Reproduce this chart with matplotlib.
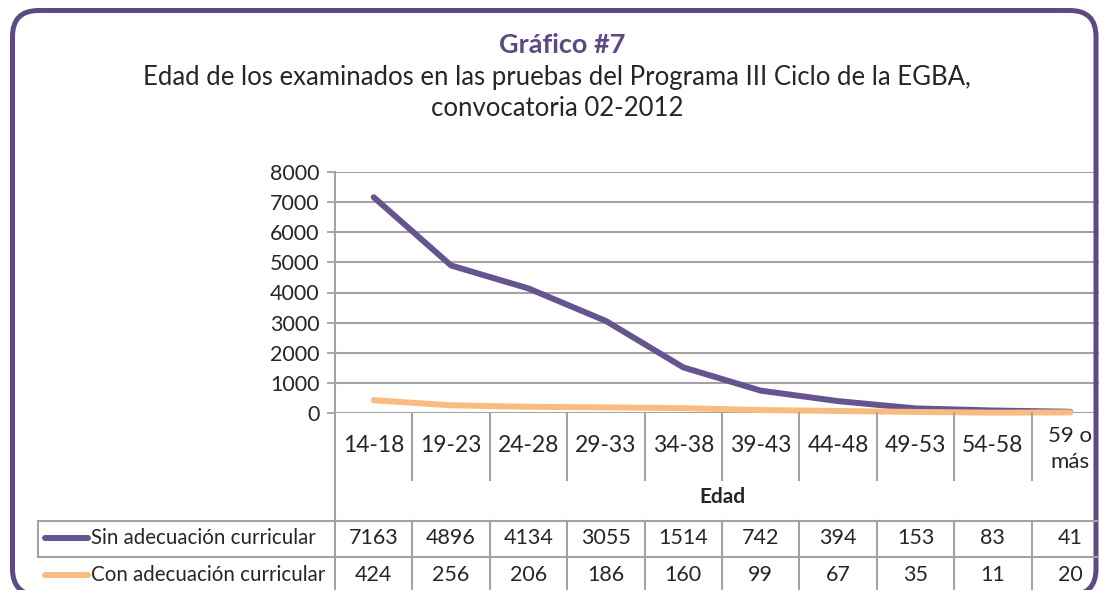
import numpy as np
import matplotlib
matplotlib.use("Agg")
import matplotlib.pyplot as plt
import matplotlib.transforms as mtransforms
from matplotlib.patches import FancyBboxPatch
from matplotlib.lines import Line2D

# Datos del gráfico
edades = ["14-18", "19-23", "24-28", "29-33", "34-38", "39-43", "44-48", "49-53", "54-58", "59 o\nmás"]
sin_adecuacion = [7163, 4896, 4134, 3055, 1514, 742, 394, 153, 83, 41]
con_adecuacion = [424, 256, 206, 186, 160, 99, 67, 35, 11, 20]
series = ["Sin adecuación curricular", "Con adecuación curricular"]

titulo = "Gráfico #7"
subtitulo = ["Edad de los examinados en las pruebas del Programa III Ciclo de la EGBA,",
             "convocatoria 02-2012"]

morado = "#665490"
marco = "#5E4A82"
naranja = "#F9BC80"
gris = "#A3A3A3"
texto = "#262626"

plt.rcParams["font.family"] = ["Lato", "DejaVu Sans"]

W, H = 1099, 590
fig = plt.figure(figsize=(W / 100, H / 100), dpi=100)


def fy(y):
    return 1 - y / H


def fx(x):
    return x / W


# marco redondeado (el borde inferior queda fuera de la imagen)
frame = FancyBboxPatch((12.5, H - 595), 1096 - 12.5, 595 - 10.5,
                       boxstyle="round,pad=0,rounding_size=26",
                       fill=False, edgecolor=marco, linewidth=3.6,
                       transform=mtransforms.IdentityTransform())
fig.add_artist(frame)

# títulos
fig.text(fx(562), fy(45), titulo, ha="center", va="center", fontsize=19.5,
         fontweight="bold", color=marco)
fig.text(fx(557), fy(78), subtitulo[0], ha="center", va="center", fontsize=18.5, color=texto)
fig.text(fx(557), fy(108), subtitulo[1], ha="center", va="center", fontsize=18.5, color=texto)

# área del gráfico
ax = fig.add_axes([fx(335), fy(413), (1109 - 335) / W, (413 - 172) / H])
x = np.arange(len(edades))
ax.plot(x, sin_adecuacion, color=morado, lw=4.3, solid_capstyle="round",
        solid_joinstyle="round", clip_on=False, zorder=3)
ax.plot(x, con_adecuacion, color=naranja, lw=4.3, solid_capstyle="round",
        solid_joinstyle="round", clip_on=False, zorder=4)
ax.set_xlim(-0.5, len(edades) - 0.5)
ax.set_ylim(0, 8000)
ax.set_yticks(np.arange(0, 8001, 1000))
ax.set_xticks([])
ax.grid(axis="y", color=gris, lw=1.5)
ax.set_axisbelow(True)
for s in ["top", "right", "bottom", "left"]:
    ax.spines[s].set_visible(False)
ax.tick_params(axis="y", length=6, width=1.3, color=gris, pad=5,
               labelsize=15.5, labelcolor=texto)

# tabla de datos (x en datos, y en figura)
tr = mtransforms.blended_transform_factory(ax.transData, fig.transFigure)


def linea(xs, ys, transform):
    fig.add_artist(Line2D(xs, ys, color=gris, lw=1.5, transform=transform))


# eje vertical que baja hasta la tabla
linea([fx(335), fx(335)], [fy(172), fy(600)], fig.transFigure)

for i in range(len(edades) - 1):
    linea([i + 0.5, i + 0.5], [fy(413), fy(480)], tr)
    linea([i + 0.5, i + 0.5], [fy(521), fy(600)], tr)

for i, lab in enumerate(edades):
    if "\n" in lab:
        a, b = lab.split("\n")
        fig.text(i, fy(436), a, transform=tr, ha="center", va="center", fontsize=16, color=texto)
        fig.text(i, fy(462), b, transform=tr, ha="center", va="center", fontsize=16, color=texto)
    else:
        fig.text(i, fy(446), lab, transform=tr, ha="center", va="center", fontsize=16.5, color=texto)

fig.text(4.5, fy(497), "Edad", transform=tr, ha="center", va="center",
         fontsize=15, fontweight="bold", color=texto)

# filas de la tabla
linea([fx(38), fx(1099)], [fy(521), fy(521)], fig.transFigure)
linea([fx(38), fx(1099)], [fy(557), fy(557)], fig.transFigure)
linea([fx(38), fx(38)], [fy(521), fy(557)], fig.transFigure)

for fila, (nombre, valores, color) in enumerate(zip(series, [sin_adecuacion, con_adecuacion],
                                                     [morado, naranja])):
    yc = fy(538 + fila * 37)
    fig.add_artist(Line2D([fx(45), fx(88)], [yc, yc], color=color, lw=4.3,
                          solid_capstyle="round", transform=fig.transFigure))
    fig.text(fx(91), yc, nombre, ha="left", va="center", fontsize=14.8, color=texto)
    for i, v in enumerate(valores):
        fig.text(i, yc, str(v), transform=tr, ha="center", va="center",
                 fontsize=15.5, color=texto)

fig.savefig("out.png", dpi=100)
